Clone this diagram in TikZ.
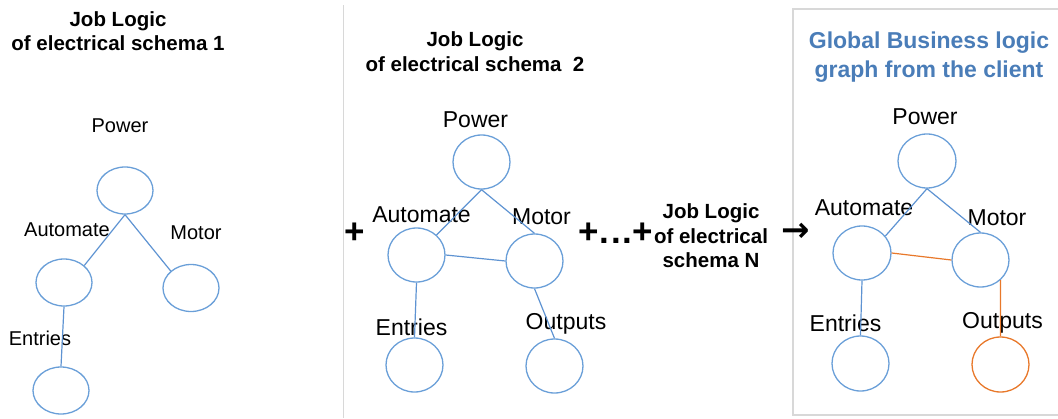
\documentclass[tikz,border=0pt]{standalone}
\usepackage{fontspec}
\setmainfont{Liberation Sans}
\newfontfamily\dejavu{DejaVu Sans}
\usetikzlibrary{shapes.geometric}
\definecolor{nodeblue}{HTML}{6A9FD8}
\definecolor{edgeblue}{HTML}{5E93D2}
\definecolor{hlorange}{HTML}{E8782A}
\definecolor{titleblue}{HTML}{4A7DB8}
\definecolor{framegray}{HTML}{D8D8D8}
\tikzset{
  circ/.style={ellipse, draw=nodeblue, line width=1.3pt, inner sep=0pt, minimum width=57pt, minimum height=54pt},
  circA/.style={circ, minimum width=56pt, minimum height=47pt},
  ocirc/.style={circ, draw=hlorange},
  edge/.style={draw=edgeblue, line width=1.2pt},
  oedge/.style={draw=hlorange, line width=1.2pt},
  lblA/.style={inner sep=0pt, font=\fontsize{20}{24}\selectfont},
  lbl/.style={inner sep=0pt, font=\fontsize{23}{27}\selectfont},
  ttl/.style={inner sep=0pt, align=center, font=\fontsize{20.5}{24.5}\selectfont\bfseries},
  gttl/.style={inner sep=0pt, align=center, text=titleblue, font=\fontsize{23}{29}\selectfont\bfseries},
  op/.style={inner sep=0pt, font=\fontsize{35}{35}\selectfont\bfseries},
}
\begin{document}
\begin{tikzpicture}[x=1pt,y=-1pt]
\useasboundingbox (0,0) rectangle (1058,418);
% divider and frame
\coordinate (dtop) at (343,5);
\coordinate (dbot) at (343,418);
\draw[framegray, line width=1pt] (dtop) -- (dbot);
\draw[framegray, line width=1.2pt] (793,9) rectangle (1062,415);

% ---------- panel 1 ----------
\node[ttl] (t1) at (118,31) {Job Logic\\of electrical schema 1};
\node[lblA] (l1p) at (120,126) {Power};
\node[lblA] (l1a) at (67,230) {Automate};
\node[lblA] (l1m) at (196,233) {Motor};
\node[lblA] (l1e) at (40,338) {Entries};
\node[circA] (p1) at (125,190.5) {};
\node[circA] (a1) at (64,282.5) {};
\node[circA] (m1) at (191,288) {};
\node[circA] (e1) at (61,390.5) {};
\draw[edge] (p1.south) -- (a1.40);
\draw[edge] (p1.south) -- (m1.140);
\draw[edge] (a1.south) -- (e1.north);

% ---------- panel 2 ----------
\node[ttl] (t2) at (475,51.5) {Job Logic\\of electrical schema\ \ 2};
\node[lbl] (l2p) at (475.5,120) {Power};
\node[lbl] (l2a) at (421.5,215) {Automate};
\node[lbl] (l2m) at (541.5,217) {Motor};
\node[lbl] (l2e) at (411.5,327) {Entries};
\node[lbl] (l2o) at (566,324) {Outputs};
\node[circ] (p2) at (481.5,162) {};
\node[circ] (a2) at (416.5,255) {};
\node[circ] (m2) at (534.5,261) {};
\node[circ] (e2) at (414.5,365) {};
\node[circ] (o2) at (554.5,366) {};
\draw[edge] (p2.south) -- (a2.45);
\draw[edge] (p2.south) -- (m2.north);
\draw[edge] (a2.east) -- (m2.west);
\draw[edge] (a2.south) -- (e2.north);
\draw[edge] (m2.south) -- (o2.north);

% operators
\node[op] (plus1) at (355,233) {+};
\node[op] (plusN) at (616,233) {+\kern0.5pt.\kern1.5pt.\kern1.5pt.\kern0.5pt+};
\node[ttl] (tN) at (711,236) {Job Logic\\of electrical\\schema N};
\node[inner sep=0pt, font=\dejavu\bfseries\fontsize{34}{34}\selectfont] (arr) at (795.5,232) {→};

% ---------- panel 3 ----------
\node[gttl] (t3) at (929,57.5) {Global Business logic\\graph from the client};
\node[lbl] (l3p) at (925,117) {Power};
\node[lbl] (l3a) at (864,208) {Automate};
\node[lbl] (l3m) at (997,218) {Motor};
\node[lbl] (l3e) at (845.5,323) {Entries};
\node[lbl] (l3o) at (1002.5,323) {Outputs};
\node[circ, minimum width=58pt] (p3) at (927,161) {};
\node[circ, minimum width=58pt] (a3) at (862,253) {};
\node[circ] (m3) at (980.5,260) {};
\node[circ, minimum height=55pt] (e3) at (860.5,363.5) {};
\node[ocirc, minimum height=55pt] (o3) at (1000.5,364.5) {};
\draw[edge] (p3.south) -- (a3.36);
\draw[edge] (p3.south) -- (m3.north);
\draw[oedge] (a3.east) -- (m3.west);
\draw[edge] (a3.south) -- (e3.north);
\draw[oedge] (m3.-45) -- (o3.north);
\end{tikzpicture}
\end{document}
